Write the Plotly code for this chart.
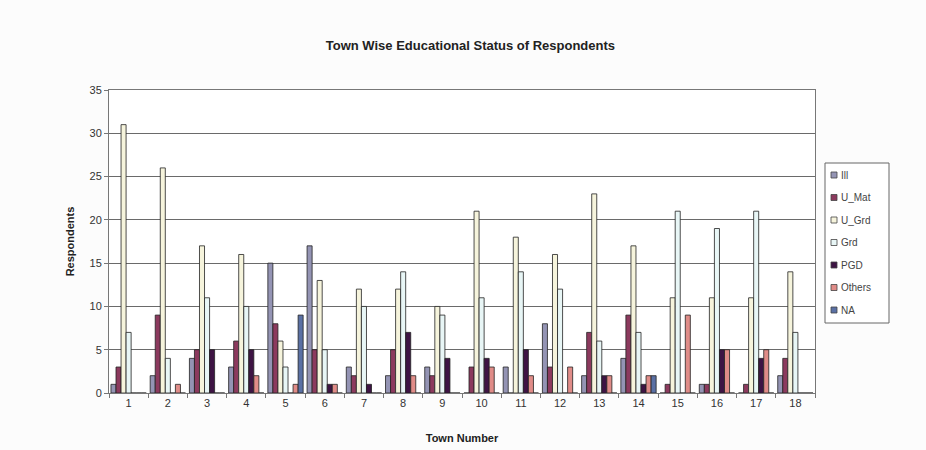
import plotly.graph_objects as go

towns = list(range(1, 19))
tick_labels = [str(t) for t in towns]

ill    = [1, 2, 4, 3, 15, 17, 3, 2, 3, 0, 3, 8, 2, 4, 0, 1, 0, 2]
u_mat  = [3, 9, 5, 6, 8, 5, 2, 5, 2, 3, 0, 3, 7, 9, 1, 1, 1, 4]
u_grd  = [31, 26, 17, 16, 6, 13, 12, 12, 10, 21, 18, 16, 23, 17, 11, 11, 11, 14]
grd    = [7, 4, 11, 10, 3, 5, 10, 14, 9, 11, 14, 12, 6, 7, 21, 19, 21, 7]
pgd    = [0, 0, 5, 5, 0, 1, 1, 7, 4, 4, 5, 0, 2, 1, 0, 5, 4, 0]
others = [0, 1, 0, 2, 1, 1, 0, 2, 0, 3, 2, 3, 2, 2, 9, 5, 5, 0]
na     = [0, 0, 0, 0, 9, 0, 0, 0, 0, 0, 0, 0, 0, 2, 0, 0, 0, 0]

series = [
    ("Ill", ill, "#9494b4"),
    ("U_Mat", u_mat, "#8c3a5e"),
    ("U_Grd", u_grd, "#f6f4dc"),
    ("Grd", grd, "#e8f6f6"),
    ("PGD", pgd, "#3e1444"),
    ("Others", others, "#e08c88"),
    ("NA", na, "#5a70a4"),
]

font_family = "Liberation Sans, Arial, sans-serif"

# plot area in pixels, used to place the compact legend box
W, H = 926, 450
L, R, T, B = 109, 111, 90, 57
PW, PH = W - L - R, H - T - B


def px_x(px):
    return (px - L) / PW


def px_y(py):
    return (H - B - py) / PH


fig = go.Figure()
for name, vals, color in series:
    fig.add_trace(go.Bar(
        x=towns, y=vals, name=name, showlegend=False,
        marker=dict(color=color, line=dict(color="#222222", width=0.8)),
    ))

# compact legend: bordered box with small swatches
shapes = [dict(
    type="rect", xref="paper", yref="paper",
    x0=px_x(825), x1=px_x(889), y0=px_y(323), y1=px_y(163),
    line=dict(color="#666666", width=1), fillcolor="#ffffff", layer="above",
)]
annotations = []
for i, (name, _, color) in enumerate(series):
    cy = 175 + 22.5 * i
    shapes.append(dict(
        type="rect", xref="paper", yref="paper",
        x0=px_x(831), x1=px_x(837), y0=px_y(cy + 3), y1=px_y(cy - 3),
        line=dict(color="#444444", width=0.8), fillcolor=color, layer="above",
    ))
    annotations.append(dict(
        text=name, xref="paper", yref="paper", x=px_x(839), y=px_y(cy),
        xanchor="left", yanchor="middle", showarrow=False,
        font=dict(size=10, color="#444444"),
    ))

fig.update_layout(
    width=W, height=H,
    barmode="group", bargap=0.1, bargroupgap=0,
    margin=dict(l=L, r=R, t=T, b=B),
    paper_bgcolor="#fcfcfc", plot_bgcolor="#ffffff",
    font=dict(family=font_family, size=11, color="#333333"),
    title=dict(
        text="<b>Town Wise Educational Status of Respondents</b>",
        x=0.508, xanchor="center", y=0.9, yanchor="middle", yref="container",
        font=dict(size=13, color="#222222"),
    ),
    shapes=shapes,
    annotations=annotations,
    xaxis=dict(
        range=[0.5, 18.5], tickvals=towns, ticktext=tick_labels,
        automargin=False,
        showgrid=False, zeroline=False,
        showline=True, linecolor="#777777", linewidth=1, mirror=True,
        ticks="", tickfont=dict(size=11, color="#333333"),
        minor=dict(ticks="outside", tick0=0.5, dtick=1, ticklen=4,
                   tickcolor="#777777", showgrid=False),
        title=dict(text="<b>Town Number</b>", font=dict(size=11, color="#222222"), standoff=26),
    ),
    yaxis=dict(
        range=[0, 35], dtick=5,
        automargin=False,
        showgrid=True, gridcolor="#6a6a6a", gridwidth=1,
        zeroline=False, showline=True, linecolor="#777777", linewidth=1, mirror=True,
        ticks="outside", ticklen=4, tickcolor="#777777",
        tickfont=dict(size=11, color="#333333"),
        title=dict(text="<b>Respondents</b>", font=dict(size=11, color="#222222"), standoff=12),
    ),
)

fig.write_html("out.html")
